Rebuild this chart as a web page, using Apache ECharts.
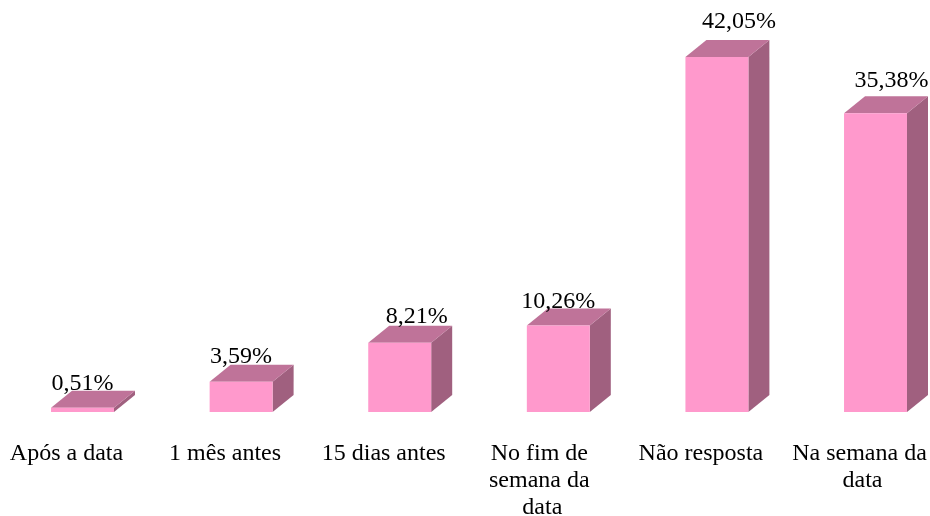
<!DOCTYPE html>
<html>
<head>
<meta charset="utf-8">
<script src="https://cdn.jsdelivr.net/npm/echarts@6/dist/echarts.min.js"></script>
<style>html,body{margin:0;padding:0;background:#fff}#c{width:930px;height:516px}</style>
</head>
<body>
<div id="c"></div>
<script>
const categories = ['Após a data', '1 mês antes', '15 dias antes', 'No fim de semana da data', 'Não resposta', 'Na semana da data'];
const values = [0.51, 3.59, 8.21, 10.26, 42.05, 35.38];
const valueLabels = ['0,51%', '3,59%', '8,21%', '10,26%', '42,05%', '35,38%'];

// layout of value labels (pixel offsets from the bar's front top centre)
const labelDx = [0, 0, 17, 0, 22, 16];
const labelDy = [-24, -25, -26, -24, -35, -33];

const FONT = '"Liberation Serif", "Times New Roman", serif';
const chart = echarts.init(document.getElementById('c'), null, {renderer: 'canvas'});
chart.setOption({
  animation: false,
  backgroundColor: '#ffffff',
  grid: {left: 66.5, right: 70.5, top: 0, bottom: 104, containLabel: false, outerBoundsMode: 'none'},
  xAxis: {
    type: 'category',
    data: categories,
    boundaryGap: false,
    axisLine: {show: false},
    axisTick: {show: false},
    axisLabel: {
      interval: 0,
      margin: 28,
      color: '#000',
      fontFamily: FONT,
      fontSize: 24,
      lineHeight: 27,
      width: 140,
      overflow: 'break'
    }
  },
  yAxis: {type: 'value', min: 0, max: 48.8, show: false, splitLine: {show: false}},
  series: [{
    type: 'custom',
    data: values.map((v, i) => [i, v]),
    renderItem: function (params, api) {
      const i = api.value(0), v = api.value(1);
      const base = api.coord([i, 0]);
      const top = api.coord([i, v]);
      const band = api.size([1, 0])[0];
      const w = band * 0.397;
      const cx = base[0] + band * 0.101;
      const x0 = cx - w / 2, x1 = cx + w / 2;
      const yb = base[1], yt = top[1];
      const dx = 21, dy = 17;
      return {
        type: 'group',
        children: [
          {type: 'polygon', shape: {points: [[x1, yt], [x1 + dx, yt - dy], [x1 + dx, yb - dy], [x1, yb]]},
           style: {fill: '#A0607F'}},
          {type: 'polygon', shape: {points: [[x0, yt], [x1, yt], [x1 + dx, yt - dy], [x0 + dx, yt - dy]]},
           style: {fill: '#BF7399'}},
          {type: 'rect', shape: {x: x0, y: yt, width: w, height: yb - yt},
           style: {fill: '#FF99CC'}},
          {type: 'text', x: cx + labelDx[i], y: yt + labelDy[i],
           style: {text: valueLabels[i], fill: '#000', font: '24px ' + FONT, align: 'center', verticalAlign: 'middle'}}
        ]
      };
    }
  }]
});
</script>
</body>
</html>
